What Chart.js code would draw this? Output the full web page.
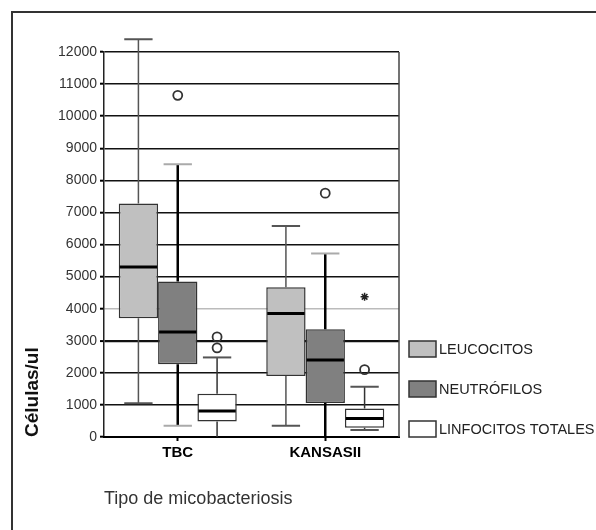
<!DOCTYPE html>
<html>
<head>
<meta charset="utf-8">
<script src="https://cdn.jsdelivr.net/npm/chart.js@4.4.1/dist/chart.umd.min.js"></script>
<style>
  html, body { margin: 0; padding: 0; background: #fff; }
  #wrap { width: 596px; height: 530px; }
</style>
</head>
<body>
<div id="wrap"><canvas id="boxChart" width="596" height="530"></canvas></div>
<script>
// categories on the x axis
const categories = ['TBC', 'KANSASII'];
const seriesNames = ['LEUCOCITOS', 'NEUTRÓFILOS', 'LINFOCITOS TOTALES'];

// [min, q1, median, q3, max] per category
const leucocitos = [[1050, 3700, 5300, 7280, 12400], [350, 1900, 3850, 4670, 6580]];
const neutrofilos = [[350, 2270, 3270, 4850, 8500], [0, 1060, 2400, 3360, 5720]];
const linfocitos = [[0, 480, 810, 1350, 2480], [220, 290, 580, 890, 1570]];

// outliers (circles) and extremes (asterisks)
const leucocitosOutliers = [[], []];
const neutrofilosOutliers = [[10650], [7600]];
const linfocitosOutliers = [[3120, 2780], [2100]];
const linfocitosExtremes = [[], [4370]];

const yTicks = [0, 1000, 2000, 3000, 4000, 5000, 6000, 7000, 8000, 9000, 10000, 11000, 12000];

Chart.defaults.font.family = "'Liberation Sans', Arial, sans-serif";

function makeSet(label, stats, outliers, extremes, fill, whisker) {
    return {
        label: label,
        data: stats.map(s => [s[1], s[3]]),
        stats: stats,
        outliers: outliers,
        extremes: extremes,
        whisker: whisker,
        backgroundColor: fill,
        borderColor: '#333',
        borderWidth: 1.5,
        borderSkipped: false
    };
}

const boxExtras = {
    id: 'boxExtras',
    afterDatasetsDraw(chart) {
        const ctx = chart.ctx;
        const y = chart.scales.y;
        ctx.save();
        chart.data.datasets.forEach((ds, i) => {
            const meta = chart.getDatasetMeta(i);
            meta.data.forEach((bar, j) => {
                const [min, q1, med, q3, max] = ds.stats[j];
                const x = bar.x;
                const w = bar.width;
                const capW = w * 0.72;
                // whiskers
                ctx.strokeStyle = ds.whisker.line;
                ctx.lineWidth = ds.whisker.width;
                ctx.beginPath();
                ctx.moveTo(x, y.getPixelForValue(q3));
                ctx.lineTo(x, y.getPixelForValue(max));
                ctx.moveTo(x, y.getPixelForValue(q1));
                ctx.lineTo(x, y.getPixelForValue(min));
                ctx.stroke();
                // caps
                ctx.strokeStyle = ds.whisker.cap;
                ctx.lineWidth = 2;
                ctx.beginPath();
                ctx.moveTo(x - capW / 2, y.getPixelForValue(max));
                ctx.lineTo(x + capW / 2, y.getPixelForValue(max));
                if (min > 0) {
                    ctx.moveTo(x - capW / 2, y.getPixelForValue(min));
                    ctx.lineTo(x + capW / 2, y.getPixelForValue(min));
                }
                ctx.stroke();
                // median
                ctx.strokeStyle = '#000';
                ctx.lineWidth = 3;
                ctx.beginPath();
                ctx.moveTo(x - w / 2 + 1, y.getPixelForValue(med));
                ctx.lineTo(x + w / 2 - 1, y.getPixelForValue(med));
                ctx.stroke();
                // outliers
                ctx.strokeStyle = '#333';
                ctx.lineWidth = 1.8;
                ds.outliers[j].forEach(v => {
                    ctx.beginPath();
                    ctx.arc(x, y.getPixelForValue(v), 4.5, 0, Math.PI * 2);
                    ctx.stroke();
                });
                ctx.strokeStyle = '#222';
                ctx.lineWidth = 1.5;
                ds.extremes[j].forEach(v => {
                    const py = y.getPixelForValue(v);
                    ctx.beginPath();
                    for (let k = 0; k < 4; k++) {
                        const a = k * Math.PI / 4;
                        ctx.moveTo(x - Math.cos(a) * 4, py - Math.sin(a) * 4);
                        ctx.lineTo(x + Math.cos(a) * 4, py + Math.sin(a) * 4);
                    }
                    ctx.stroke();
                });
            });
        });
        ctx.restore();
    },
    afterDraw(chart) {
        const ctx = chart.ctx;
        const area = chart.chartArea;
        ctx.save();
        // right border of the plot
        ctx.strokeStyle = '#444';
        ctx.lineWidth = 1.5;
        ctx.beginPath();
        ctx.moveTo(area.right, area.top);
        ctx.lineTo(area.right, area.bottom);
        ctx.stroke();
        // outer frame (top and left)
        ctx.strokeStyle = '#333';
        ctx.lineWidth = 2;
        ctx.beginPath();
        ctx.moveTo(12, 530);
        ctx.lineTo(12, 12);
        ctx.lineTo(596, 12);
        ctx.stroke();
        // legend
        ctx.font = "14.5px 'Liberation Sans', Arial, sans-serif";
        ctx.textBaseline = 'middle';
        ctx.textAlign = 'left';
        chart.data.datasets.forEach((ds, i) => {
            const top = 341 + i * 40;
            ctx.fillStyle = ds.backgroundColor;
            ctx.fillRect(409, top, 27, 16);
            ctx.strokeStyle = '#333';
            ctx.lineWidth = 1.5;
            ctx.strokeRect(409, top, 27, 16);
            ctx.fillStyle = '#222';
            ctx.fillText(ds.label, 439, top + 8.5);
        });
        ctx.restore();
    }
};

const config = {
    type: 'bar',
    data: {
        labels: categories,
        datasets: [
            makeSet(seriesNames[0], leucocitos, leucocitosOutliers, [[], []], '#c0c0c0', { line: '#555', width: 1.5, cap: '#555' }),
            makeSet(seriesNames[1], neutrofilos, neutrofilosOutliers, [[], []], '#808080', { line: '#000', width: 2.5, cap: '#aaa' }),
            makeSet(seriesNames[2], linfocitos, linfocitosOutliers, linfocitosExtremes, '#ffffff', { line: '#333', width: 1.5, cap: '#555' })
        ]
    },
    options: {
        responsive: false,
        animation: false,
        categoryPercentage: 0.8,
        barPercentage: 1.0,
        layout: {
            padding: { left: 0, right: 197, top: 52, bottom: 0 }
        },
        plugins: {
            legend: { display: false },
            tooltip: { enabled: false }
        },
        scales: {
            y: {
                min: 0,
                max: 12000,
                afterFit: scale => { scale.width = 104; },
                afterBuildTicks: scale => { scale.ticks = yTicks.map(v => ({ value: v })); },
                ticks: {
                    padding: 3,
                    color: '#333',
                    font: { size: 14 },
                    callback: v => String(v)
                },
                grid: {
                    color: c => (c.tick && c.tick.value === 4000) ? '#bbb' : '#111',
                    lineWidth: c => (c.tick && c.tick.value === 3000) ? 2.2 : 1.4,
                    tickLength: 4,
                    tickColor: '#000',
                    tickWidth: 2
                },
                border: { display: true, color: '#222', width: 1.5 },
                title: {
                    display: true,
                    text: 'Células/ul',
                    align: 'start',
                    color: '#111',
                    font: { size: 19, weight: 'bold' },
                    padding: { top: 21, bottom: 0 }
                }
            },
            x: {
                afterFit: scale => { scale.height = 93; },
                ticks: {
                    color: '#000',
                    padding: 3,
                    font: { size: 15, weight: 'bold' }
                },
                grid: {
                    offset: false,
                    drawOnChartArea: false,
                    tickLength: 4,
                    tickColor: '#000',
                    tickWidth: 2
                },
                border: { display: true, color: '#000', width: 2 },
                title: {
                    display: true,
                    text: 'Tipo de micobacteriosis',
                    align: 'start',
                    color: '#333',
                    font: { size: 18 },
                    padding: { top: 0, bottom: 20 }
                }
            }
        }
    },
    plugins: [boxExtras]
};

new Chart(document.getElementById('boxChart').getContext('2d'), config);
</script>
</body>
</html>
